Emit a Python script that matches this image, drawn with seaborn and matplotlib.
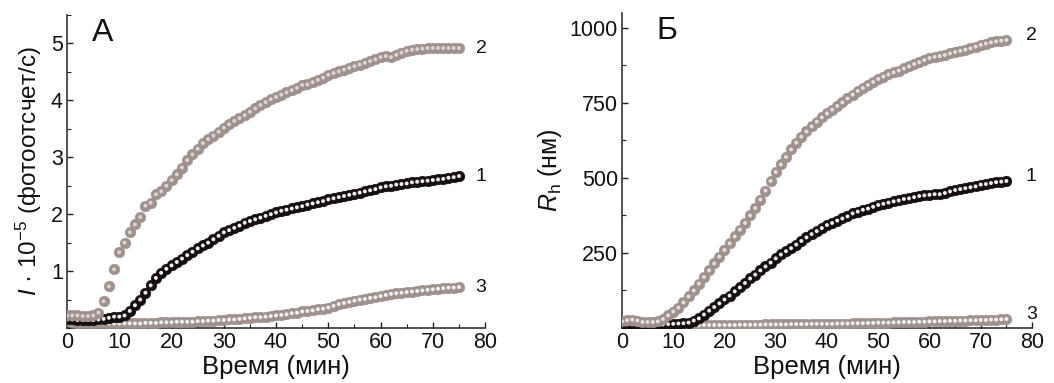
import numpy as np
import pandas as pd
import seaborn as sns
import matplotlib
matplotlib.use("Agg")
import matplotlib.pyplot as plt
from matplotlib.ticker import MultipleLocator

# ---------------- data ----------------
time_min = list(range(0, 76))

# Panel A: intensity I*10^-5 (photocounts/s)
a_series1 = [0.15, 0.15, 0.14, 0.14, 0.14, 0.14, 0.15, 0.16, 0.18, 0.20,
             0.20, 0.22, 0.30, 0.40, 0.50, 0.62, 0.75, 0.88, 0.97, 1.04,
             1.10, 1.16, 1.22, 1.28, 1.34, 1.40, 1.45, 1.50, 1.56, 1.62,
             1.68, 1.72, 1.76, 1.80, 1.85, 1.88, 1.91, 1.94, 1.97, 2.00,
             2.03, 2.06, 2.08, 2.10, 2.12, 2.14, 2.17, 2.19, 2.21, 2.23,
             2.26, 2.28, 2.30, 2.32, 2.34, 2.36, 2.38, 2.40, 2.42, 2.44,
             2.47, 2.49, 2.50, 2.52, 2.53, 2.54, 2.56, 2.57, 2.58, 2.59,
             2.60, 2.61, 2.62, 2.64, 2.65, 2.67]
a_series2 = [0.22, 0.22, 0.22, 0.21, 0.21, 0.22, 0.27, 0.47, 0.73, 1.03,
             1.33, 1.50, 1.68, 1.82, 1.95, 2.15, 2.20, 2.35, 2.40, 2.50,
             2.60, 2.70, 2.82, 2.95, 3.05, 3.15, 3.25, 3.32, 3.38, 3.45,
             3.52, 3.58, 3.64, 3.69, 3.74, 3.80, 3.86, 3.92, 3.97, 4.02,
             4.06, 4.10, 4.14, 4.18, 4.22, 4.27, 4.28, 4.32, 4.36, 4.40,
             4.45, 4.48, 4.51, 4.54, 4.57, 4.60, 4.63, 4.66, 4.69, 4.72,
             4.76, 4.78, 4.76, 4.80, 4.84, 4.87, 4.89, 4.90, 4.91, 4.92,
             4.92, 4.92, 4.92, 4.92, 4.92, 4.92]
a_series3 = [0.12, 0.10, 0.09, 0.09, 0.09, 0.08, 0.08, 0.08, 0.08, 0.08,
             0.08, 0.08, 0.08, 0.08, 0.08, 0.09, 0.09, 0.09, 0.10, 0.10,
             0.10, 0.11, 0.11, 0.11, 0.11, 0.12, 0.12, 0.13, 0.13, 0.14,
             0.14, 0.15, 0.15, 0.16, 0.17, 0.18, 0.19, 0.19, 0.20, 0.21,
             0.22, 0.23, 0.24, 0.26, 0.27, 0.29, 0.30, 0.31, 0.33, 0.34,
             0.36, 0.39, 0.42, 0.44, 0.46, 0.48, 0.50, 0.51, 0.53, 0.54,
             0.56, 0.58, 0.60, 0.61, 0.62, 0.63, 0.64, 0.65, 0.66, 0.67,
             0.68, 0.69, 0.70, 0.71, 0.71, 0.72]

# Panel B: hydrodynamic radius R_h (nm)
b_series1 = [12, 12, 12, 11, 11, 11, 11, 12, 12, 13,
             14, 15, 16, 18, 25, 32, 45, 58, 70, 82,
             95, 108, 122, 135, 150, 165, 178, 192, 205, 218,
             232, 245, 256, 266, 278, 290, 302, 313, 323, 333,
             343, 350, 358, 365, 372, 382, 388, 394, 398, 404,
             410, 414, 418, 422, 425, 430, 432, 436, 440, 442,
             444, 446, 446, 450, 455, 460, 463, 466, 469, 472,
             478, 480, 483, 486, 488, 490]
b_series2 = [22, 26, 28, 25, 20, 20, 20, 22, 30, 42,
             55, 68, 85, 105, 125, 148, 170, 192, 215, 238,
             260, 282, 305, 328, 350, 375, 400, 428, 458, 490,
             520, 545, 570, 595, 618, 638, 655, 672, 688, 702,
             715, 728, 740, 752, 765, 778, 790, 800, 810, 820,
             830, 838, 845, 852, 858, 865, 872, 880, 886, 893,
             900, 904, 906, 910, 915, 920, 924, 928, 932, 938,
             944, 948, 952, 955, 958, 960]
b_series3 = [15, 12, 11, 10, 9, 9, 9, 9, 9, 9,
             9, 9, 9, 9, 9, 9, 10, 10, 10, 10,
             10, 10, 10, 11, 11, 11, 11, 11, 12, 12,
             12, 12, 12, 13, 13, 13, 13, 14, 14, 14,
             14, 14, 15, 15, 15, 16, 16, 16, 17, 17,
             18, 18, 18, 19, 19, 20, 20, 20, 21, 21,
             22, 22, 23, 23, 24, 24, 25, 25, 26, 26,
             27, 27, 28, 28, 29, 30]

series_labels = ["1", "2", "3"]

# ---------------- style ----------------
sns.set_theme(style="white")
plt.rcParams['font.family'] = ['Liberation Sans', 'DejaVu Sans']
plt.rcParams['mathtext.fontset'] = 'custom'
plt.rcParams['mathtext.rm'] = 'Liberation Sans'
plt.rcParams['mathtext.it'] = 'Liberation Sans:italic'

GRAY = "#9e918e"
BLACK = "#140e0e"

fig = plt.figure(figsize=(10.54, 3.83), dpi=100)
axA = fig.add_axes([0.0636, 0.1436, 0.3966, 0.8172])
axB = fig.add_axes([0.5901, 0.1436, 0.3890, 0.8225])


def draw_series(ax, x, y, color, inner, z):
    df = pd.DataFrame({"t": x, "v": y})
    sns.scatterplot(data=df, x="t", y="v", ax=ax, s=60, color=color,
                    edgecolor=color, linewidth=0.3, zorder=z, legend=False)
    sns.scatterplot(data=df, x="t", y="v", ax=ax, s=8, color=inner,
                    edgecolor="none", linewidth=0, zorder=z + 0.5, legend=False)


def style_axes(ax, ylim, ymajor, yminor):
    ax.set_xlim(0, 80)
    ax.set_ylim(*ylim)
    ax.xaxis.set_major_locator(MultipleLocator(10))
    ax.xaxis.set_minor_locator(MultipleLocator(5))
    ax.yaxis.set_major_locator(MultipleLocator(ymajor))
    ax.yaxis.set_minor_locator(MultipleLocator(yminor))
    for s in ["top", "right"]:
        ax.spines[s].set_visible(False)
    for s in ["left", "bottom"]:
        ax.spines[s].set_color("#222222")
        ax.spines[s].set_linewidth(1.1)
    ax.tick_params(axis="both", which="major", direction="in", length=4,
                   width=1.0, color="#222222", labelsize=15.5, pad=3,
                   labelcolor="#111111", bottom=True, left=True)
    ax.tick_params(axis="both", which="minor", direction="in", length=3,
                   width=0.8, color="#222222", bottom=True, left=True)
    ax.set_xlabel("Время (мин)", fontsize=18.5, color="#111111", labelpad=1)
    ax.grid(False)


# Panel A
draw_series(axA, time_min, a_series3, GRAY, "#f6f2f0", 3)
draw_series(axA, time_min, a_series1, BLACK, "#f6f2f0", 4)
draw_series(axA, time_min, a_series2, GRAY, "#dcd4d1", 5)
style_axes(axA, (0, 5.5), 1, 0.5)
axA.set_yticks([1, 2, 3, 4, 5])
axA.set_ylabel(r"$I$ · 10$^{-5}$ (фотоотсчет/с)", fontsize=17.5,
               color="#111111", labelpad=5)
axA.text(0.06, 0.99, "А", transform=axA.transAxes, fontsize=23,
         va="top", ha="left", color="#111111")
for lab, ys in zip(series_labels, [a_series1, a_series2, a_series3]):
    axA.annotate(lab, xy=(time_min[-1], ys[-1]), xytext=(12, 0),
                 textcoords="offset points", fontsize=14, va="center",
                 ha="left", color="#111111", annotation_clip=False)

# Panel B
draw_series(axB, time_min, b_series3, GRAY, "#f6f2f0", 3)
draw_series(axB, time_min, b_series1, BLACK, "#f6f2f0", 4)
draw_series(axB, time_min, b_series2, GRAY, "#e6dfdc", 5)
style_axes(axB, (0, 1050), 250, 125)
axB.set_yticks([250, 500, 750, 1000])
axB.set_ylabel(r"$R_{\mathrm{h}}$ (нм)", fontsize=18, color="#111111",
               labelpad=4)
axB.text(0.085, 0.99, "Б", transform=axB.transAxes, fontsize=23,
         va="top", ha="left", color="#111111")
for lab, ys in zip(series_labels, [b_series1, b_series2, b_series3]):
    axB.annotate(lab, xy=(time_min[-1], ys[-1]), xytext=(14, 3),
                 textcoords="offset points", fontsize=14, va="center",
                 ha="left", color="#111111", annotation_clip=False)

fig.savefig("out.png", dpi=100)
